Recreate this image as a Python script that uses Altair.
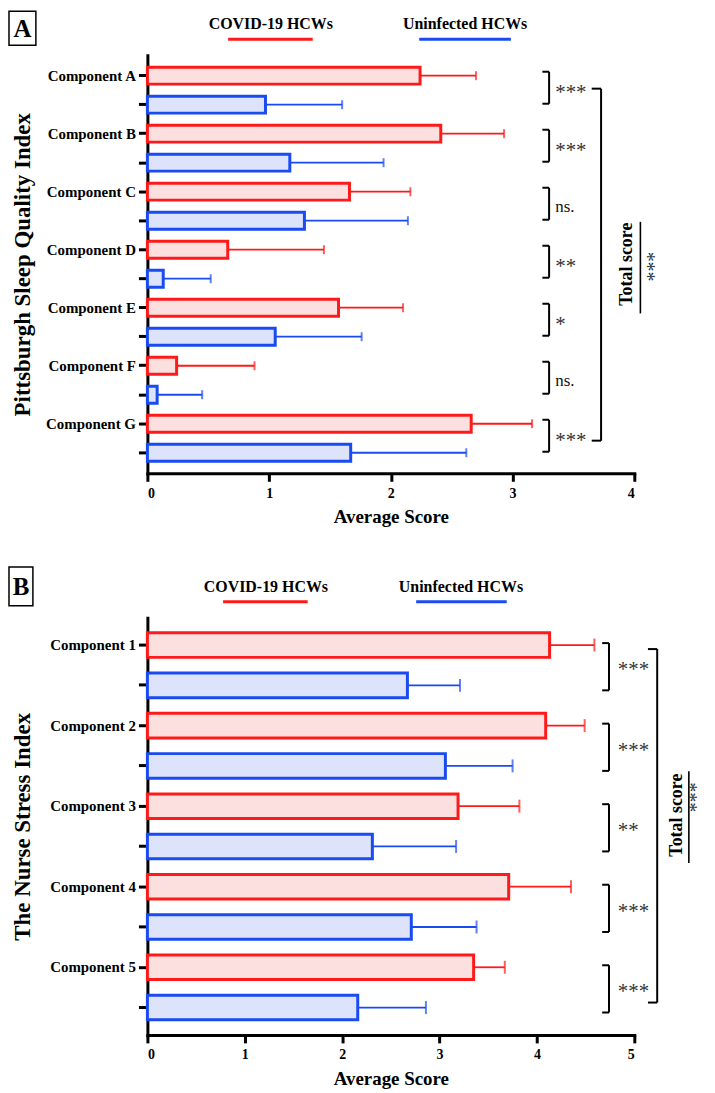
import altair as alt
import pandas as pd

RED = "#ff1a1a"
BLUE = "#1a4bf0"
RED_FILL = "#fce0e0"
BLUE_FILL = "#dde3fb"
SERIF = "Liberation Serif"
groups = ["COVID-19 HCWs", "Uninfected HCWs"]

# ---- Panel A: Pittsburgh Sleep Quality Index ----
psqi_names = ["Component A", "Component B", "Component C", "Component D",
              "Component E", "Component F", "Component G"]
psqi_covid = [2.24, 2.41, 1.66, 0.66, 1.57, 0.24, 2.66]
psqi_covid_sd = [0.46, 0.52, 0.50, 0.79, 0.53, 0.64, 0.50]
psqi_uninf = [0.97, 1.17, 1.29, 0.13, 1.05, 0.08, 1.67]
psqi_uninf_sd = [0.63, 0.77, 0.85, 0.39, 0.71, 0.37, 0.95]
psqi_sig = ["***", "***", "ns.", "**", "*", "ns.", "***"]

# ---- Panel B: The Nurse Stress Index ----
nsi_names = ["Component 1", "Component 2", "Component 3", "Component 4", "Component 5"]
nsi_covid = [4.13, 4.09, 3.19, 3.71, 3.35]
nsi_covid_sd = [0.46, 0.40, 0.63, 0.64, 0.32]
nsi_uninf = [2.67, 3.06, 2.31, 2.71, 2.16]
nsi_uninf_sd = [0.54, 0.69, 0.86, 0.67, 0.70]
nsi_sig = ["***", "***", "**", "***", "***"]


def panel(letter, names, covid, covid_sd, uninf, uninf_sd, sig, x_max, height,
          ytitle, pi, po, g):
    keys = []
    for n in names:
        keys += [n, n + "|u"]
    rows = []
    for i, n in enumerate(names):
        rows.append({"key": n, "group": groups[0], "value": covid[i], "end": covid[i] + covid_sd[i]})
        rows.append({"key": n + "|u", "group": groups[1], "value": uninf[i], "end": uninf[i] + uninf_sd[i]})
    bars = pd.DataFrame(rows)
    step = height / (len(keys) - pi + 2 * po)

    xs = alt.Scale(domain=[0, x_max], nice=False, zero=True)
    xaxis = alt.Axis(values=list(range(x_max + 1)), format="d", grid=False,
                     labelFont=SERIF, labelFontWeight="bold", labelFontSize=14,
                     labelColor="black", labelPadding=5, tickSize=8, tickWidth=3,
                     tickColor="black", domainWidth=3, domainColor="black",
                     domainCap="square",
                     titleFont=SERIF, titleFontSize=19, titleFontWeight="bold",
                     titleColor="black", titleY=g["xtitle_y"], titleBaseline="middle")
    ys = alt.Scale(domain=keys, paddingInner=pi, paddingOuter=po)
    yaxis = alt.Axis(labelExpr="indexof(datum.value, '|') >= 0 ? '' : datum.value",
                     labelFont=SERIF, labelFontWeight="bold", labelFontSize=15,
                     labelColor="black", labelPadding=3, tickSize=9, tickWidth=3,
                     tickColor="black", domainWidth=3, domainColor="black",
                     domainCap="square", grid=False,
                     titleFont=SERIF, titleFontSize=23, titleFontWeight="bold",
                     titleColor="black", titleAngle=270, titleX=-113,
                     titleY=height / 2, titleBaseline="bottom", titleAlign="center")

    def X(field):
        return alt.X(field, type="quantitative", scale=xs, axis=xaxis, title="Average Score")

    def Y(field):
        return alt.Y(field, type="nominal", scale=ys, axis=yaxis, sort=keys, title=ytitle)

    color = alt.Color("group:N", scale=alt.Scale(domain=groups, range=[RED, BLUE]), legend=None)

    bar = alt.Chart(bars).mark_bar(strokeWidth=3).encode(
        x=X("value"), y=Y("key"),
        fill=alt.Fill("group:N", scale=alt.Scale(domain=groups, range=[RED_FILL, BLUE_FILL]), legend=None),
        stroke=alt.Stroke("group:N", scale=alt.Scale(domain=groups, range=[RED, BLUE]), legend=None),
    )
    err = alt.Chart(bars).mark_rule(strokeWidth=1.8).encode(
        x=X("value"), x2="end", y=Y("key"), color=color)
    cap = alt.Chart(bars).mark_tick(thickness=2, size=g["cap"]).encode(
        x=X("end"), y=Y("key"), color=color)

    br = pd.DataFrame({
        "top": names, "bot": [n + "|u" for n in names], "sig": sig,
        "bx": [g["bx"]] * len(names), "ba": [g["ba"]] * len(names),
        "tx": [g["tx"]] * len(names)})
    ot, ob = g["boff"]
    b_v = alt.Chart(br).mark_rule(strokeWidth=2, color="black", yOffset=ot, y2Offset=ob).encode(
        x=X("bx"), y=Y("top"), y2="bot")
    b_t = alt.Chart(br).mark_rule(strokeWidth=2, color="black", yOffset=ot).encode(
        x=X("ba"), x2="bx", y=Y("top"))
    b_b = alt.Chart(br).mark_rule(strokeWidth=2, color="black", yOffset=ob).encode(
        x=X("ba"), x2="bx", y=Y("bot"))
    b_star = alt.Chart(br).transform_filter("datum.sig != 'ns.'").mark_text(
        align="left", baseline="middle", font=SERIF, fontSize=21, color="#333333",
        yOffset=step / 2 + g["star_off"]).encode(x=X("tx"), y=Y("top"), text="sig")
    b_ns = alt.Chart(br).transform_filter("datum.sig == 'ns.'").mark_text(
        align="left", baseline="middle", font=SERIF, fontSize=17, color="#111111",
        yOffset=step / 2 + 1).encode(x=X("tx"), y=Y("top"), text="sig")

    tot = pd.DataFrame({"top": [g["ttop"]], "bot": [g["tbot"]], "bx": [g["tbx"]],
                        "ba": [g["tba"]], "mid": [g["tmid"]], "lx": [g["tlx"]],
                        "ux": [g["tux"]], "sx": [g["tsx"]],
                        "label": ["Total score"], "sig": ["***"]})
    tt, tb = g["toff"]
    t_v = alt.Chart(tot).mark_rule(strokeWidth=2, color="black", yOffset=tt, y2Offset=tb).encode(
        x=X("bx"), y=Y("top"), y2="bot")
    t_t = alt.Chart(tot).mark_rule(strokeWidth=2, color="black", yOffset=tt).encode(
        x=X("ba"), x2="bx", y=Y("top"))
    t_b = alt.Chart(tot).mark_rule(strokeWidth=2, color="black", yOffset=tb).encode(
        x=X("ba"), x2="bx", y=Y("bot"))
    t_lab = alt.Chart(tot).mark_text(angle=270, align="center", baseline="middle",
                                     font=SERIF, fontSize=18, fontWeight="bold",
                                     color="black", yOffset=g["tlab_off"]).encode(
        x=X("lx"), y=Y("mid"), text="label")
    u0, u1 = g["uoff"]
    t_ul = alt.Chart(tot).mark_rule(strokeWidth=1.6, color="black", yOffset=u0, y2Offset=u1).encode(
        x=X("ux"), y=Y("mid"), y2="mid")
    t_sig = alt.Chart(tot).mark_text(angle=270, align="center", baseline="middle",
                                     font=SERIF, fontSize=20, color="#333333",
                                     yOffset=g["tsig_off"]).encode(
        x=X("sx"), y=Y("mid"), text="sig")

    leg = pd.DataFrame({"group": groups, "cx": g["leg_c"], "x1": g["leg_1"], "x2": g["leg_2"]})
    l_txt = alt.Chart(leg).mark_text(font=SERIF, fontSize=16, fontWeight="bold",
                                     color="black", baseline="middle").encode(
        x=X("cx"), y=alt.value(-31), text="group")
    l_line = alt.Chart(leg).mark_rule(strokeWidth=3).encode(
        x=X("x1"), x2="x2", y=alt.value(-16), color=color)

    box = pd.DataFrame({"label": [letter]})
    bx0, bx1, by0, by1 = g["box"]
    b_rect = alt.Chart(box).mark_rect(fill="white", stroke="black", strokeWidth=1.5).encode(
        x=alt.value(bx0), x2=alt.value(bx1), y=alt.value(by0), y2=alt.value(by1))
    b_lab = alt.Chart(box).mark_text(font=SERIF, fontSize=25, fontWeight="bold",
                                     color="black", baseline="middle", align="center").encode(
        x=alt.value((bx0 + bx1) / 2), y=alt.value((by0 + by1) / 2 + 1), text="label")

    return alt.layer(bar, err, cap, b_v, b_t, b_b, b_star, b_ns, t_v, t_t, t_b, t_lab,
                     t_ul, t_sig, l_txt, l_line, b_rect, b_lab).properties(width=489, height=height)


geoA = dict(xtitle_y=43, cap=9, bx=3.30, ba=3.245, tx=3.35, boff=(-4, -1), star_off=3,
            ttop="Component A", tbot="Component G", tbx=3.727, tba=3.65, toff=(13, 17),
            tmid="Component D", tlx=3.94, tux=4.05, tsx=4.17, tlab_off=14.5,
            uoff=(-28, 64), tsig_off=17,
            leg_c=[1.014, 2.61], leg_1=[0.663, 2.233], leg_2=[1.358, 2.986],
            box=(-139, -112, -44, -10))
geoB = dict(xtitle_y=44, cap=13, bx=4.74, ba=4.67, tx=4.83, boff=(-2, 5), star_off=5,
            ttop="Component 1", tbot="Component 5|u", tbx=5.235, tba=5.14, toff=(4, -5),
            tmid="Component 3", tlx=5.44, tux=5.56, tsx=5.64, tlab_off=9,
            uoff=(-35, 57), tsig_off=-9,
            leg_c=[1.217, 3.22], leg_1=[0.777, 2.76], leg_2=[1.646, 3.69],
            box=(-139, -115, -51, -12))

pA = panel("A", psqi_names, psqi_covid, psqi_covid_sd, psqi_uninf, psqi_uninf_sd,
           psqi_sig, 4, 420, "Pittsburgh Sleep Quality Index", 0.42, 0.42, geoA)
pB = panel("B", nsi_names, nsi_covid, nsi_covid_sd, nsi_uninf, nsi_uninf_sd,
           nsi_sig, 5, 419, "The Nurse Stress Index", 0.39, 0.375, geoB)

chart = alt.vconcat(pA, pB, spacing=40).resolve_scale(
    x="independent", y="independent"
).properties(padding=0, background="white").configure_view(strokeWidth=0)

chart.save("out.html", embed_options={"renderer": "svg", "actions": False})
